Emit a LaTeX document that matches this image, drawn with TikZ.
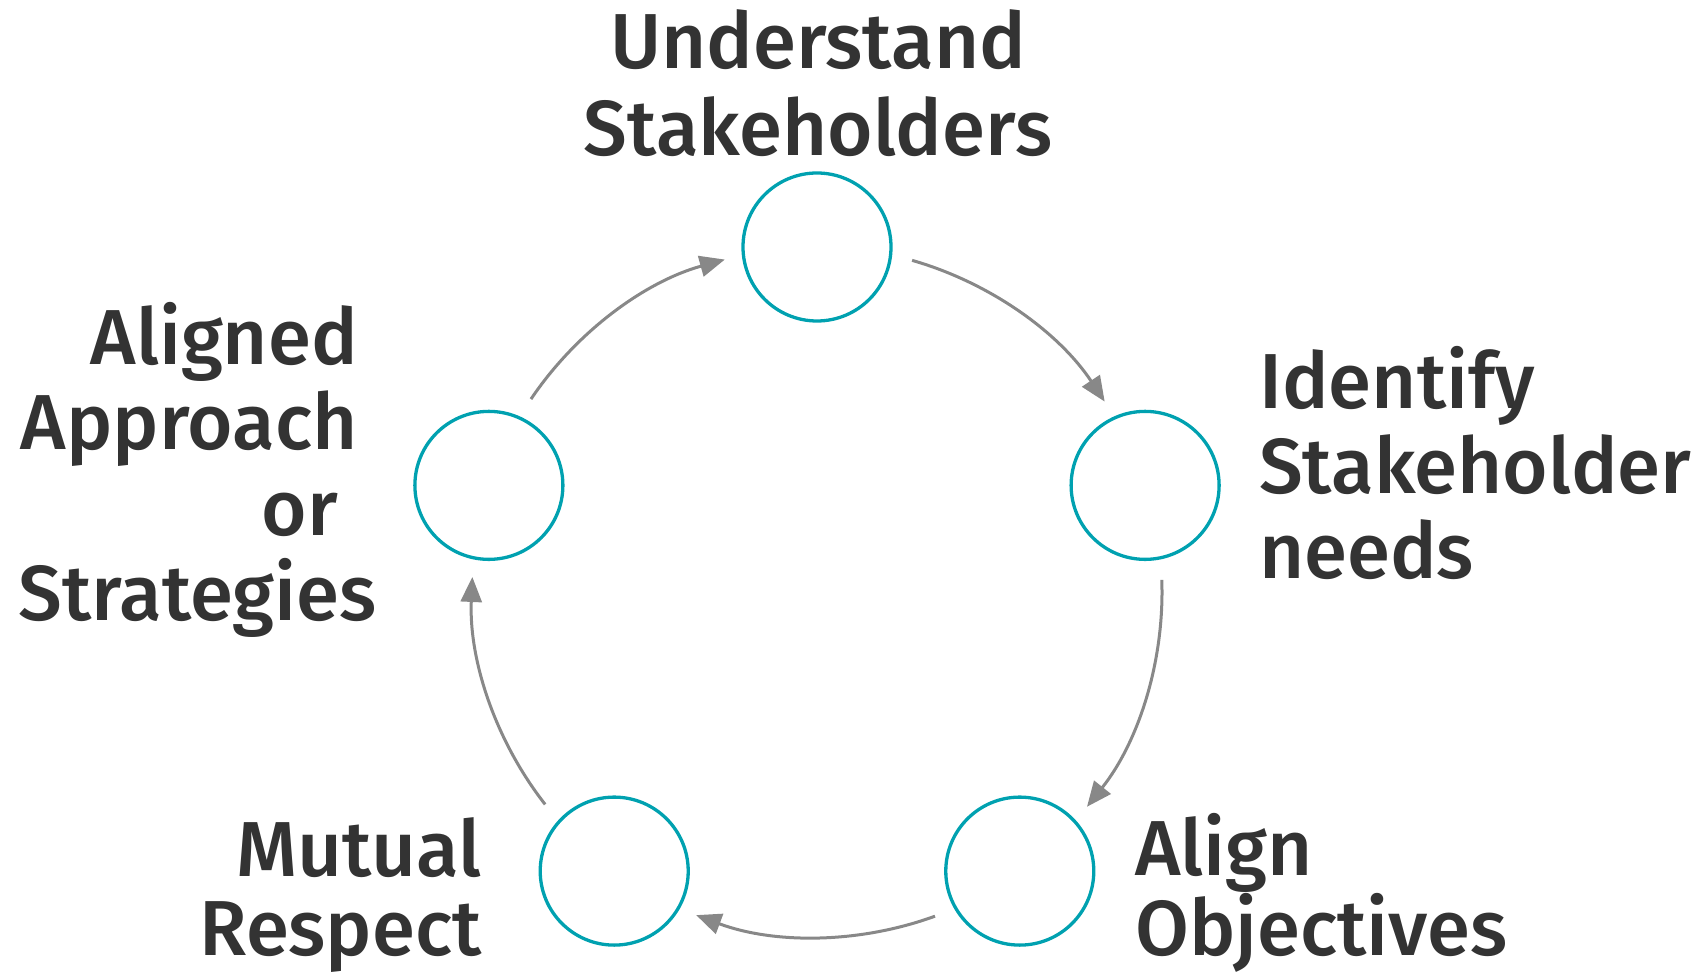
\documentclass[tikz,border=0pt]{standalone}
\usepackage{fontspec}
\newfontfamily\labfont{Fira Sans Medium}
\usetikzlibrary{arrows.meta,calc}
\definecolor{ring}{RGB}{0,161,176}
\definecolor{arrowgray}{RGB}{136,136,136}
\definecolor{txt}{RGB}{51,51,51}
\begin{document}
\begin{tikzpicture}[x=1pt,y=1pt,
  stage/.style={circle,draw=ring,line width=3.3pt,minimum size=148pt,inner sep=0pt},
  lbl/.style={text=txt,inner sep=0pt},
  flow/.style={draw=arrowgray,line width=3pt,-{Triangle[length=25pt,width=21pt]}}]
\useasboundingbox (0,0) rectangle (1703,977);
\coordinate (C) at (817,385);
% stages
\node[stage] (n1) at ($(C)+(90:345)$) {};
\node[stage] (n2) at ($(C)+(18:345)$) {};
\node[stage] (n3) at ($(C)+(-54:345)$) {};
\node[stage] (n4) at ($(C)+(-126:345)$) {};
\node[stage] (n5) at ($(C)+(162:345)$) {};
% connector starts
\coordinate (s1) at ($(C)+(74:345)$);
\coordinate (s2) at ($(C)+(2:345)$);
\coordinate (s3) at ($(C)+(-70:345)$);
\coordinate (s4) at ($(C)+(-142:345)$);
\coordinate (s5) at ($(C)+(146:345)$);
\draw[flow] (s1) arc[start angle=74,end angle=33.5,radius=345];
\draw[flow] (s2) arc[start angle=2,end angle=-38.5,radius=345];
\draw[flow] (s3) arc[start angle=-70,end angle=-110.5,radius=345];
\draw[flow] (s4) arc[start angle=-142,end angle=-182.5,radius=345];
\draw[flow] (s5) arc[start angle=146,end angle=105.5,radius=345];
% labels
\node[lbl,align=center,anchor=north,font=\labfont\fontsize{78}{87}\selectfont] (t1) at (818,973)
  {\rule{0pt}{64pt}Understand\\Stakeholders};
\node[lbl,align=left,anchor=north west,font=\labfont\fontsize{78}{85}\selectfont] (t2) at (1259,633)
  {\rule{0pt}{64pt}Identify\\Stakeholder\\needs};
\node[lbl,align=left,anchor=north west,font=\labfont\fontsize{78}{78}\selectfont] (t3) at (1135,166)
  {\rule{0pt}{64pt}Align\\Objectives};
\node[lbl,align=right,anchor=north east,font=\labfont\fontsize{78}{79}\selectfont] (t4) at (482,165)
  {\rule{0pt}{64pt}Mutual\\Respect};
\node[lbl,align=right,anchor=north east,font=\labfont\fontsize{78}{85.5}\selectfont] (t5) at (358,677)
  {\rule{0pt}{64pt}Aligned\\Approach\\or\kern20pt\\Strategies\kern-19pt};
\end{tikzpicture}
\end{document}
